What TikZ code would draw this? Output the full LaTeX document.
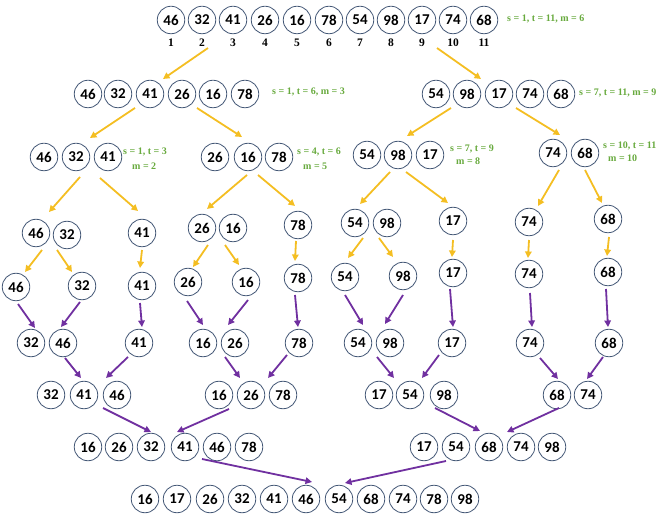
\documentclass[tikz,border=0pt]{standalone}
\usepackage{fontspec}
\setmainfont{Liberation Serif}
\newfontfamily\numfont{Carlito}
\usetikzlibrary{arrows.meta}
\definecolor{cgold}{RGB}{244,190,34}
\definecolor{cpurple}{RGB}{112,48,160}
\definecolor{cring}{RGB}{68,88,118}
\definecolor{cgreen}{RGB}{104,170,62}
\tikzset{
  cnum/.style={circle,draw=cring,line width=0.8pt,minimum size=27.5pt,inner sep=0pt,
    font=\numfont\bfseries\fontsize{15}{15}\selectfont},
  idx/.style={font=\bfseries\fontsize{11.5}{12}\selectfont,inner sep=0pt},
  glab/.style={text=cgreen,anchor=west,inner sep=0pt,font=\bfseries\fontsize{10}{11}\selectfont},
  yarr/.style={draw=cgold,line width=1.8pt,-{Triangle[length=6.5pt,width=6.5pt]}},
  parr/.style={draw=cpurple,line width=1.8pt,-{Triangle[length=6.5pt,width=6.5pt]}}
}
\begin{document}
\begin{tikzpicture}[x=1pt,y=-1pt]
\useasboundingbox (0,0) rectangle (669,518);
% row 1
\foreach \i/\x/\v in {1/171/46,2/202/32,3/233/41,4/265/26,5/297/16,6/329/78,7/360/54,8/391/98,9/422/17,10/453/74,11/484/68}{
  \node[cnum] (a\i) at (\x,20) {\v};
  \node[idx] (n\i) at (\x,43) {\i};
}
\node[glab] (la) at (507,19) {s = 1, t = 11, m = 6};
% row 2
\foreach \i/\x/\v in {1/88/46,2/118/32,3/150/41,4/182/26,5/213/16,6/245/78,7/436/54,8/467/98,9/499/17,10/530/74,11/561/68}{
  \node[cnum] (b\i) at (\x,94) {\v};
}
\node[glab] (lb1) at (272,92) {s = 1, t = 6, m = 3};
\node[glab] (lb2) at (579,93) {s = 7, t = 11, m = 9};
% row 3
\foreach \i/\x/\y/\v in {1/44/157/46,2/76/157/32,3/108/157/41,4/215/157/26,5/248/157/16,6/279/157/78,7/367/155/54,8/398/155/98,9/430/155/17,10/553/153/74,11/585/153/68}{
  \node[cnum] (c\i) at (\x,\y) {\v};
}
\node[glab] (lc1) at (123,152) {s = 1, t = 3};
\node[glab] (lc1m) at (132,166) {m = 2};
\node[glab] (lc2) at (297,152) {s = 4, t = 6};
\node[glab] (lc2m) at (303,166) {m = 5};
\node[glab] (lc3) at (450,149) {s = 7, t = 9};
\node[glab] (lc3m) at (456,161) {m = 8};
\node[glab] (lc4) at (603,146) {s = 10, t = 11};
\node[glab] (lc4m) at (608,158) {m = 10};
% row 4
\foreach \i/\x/\y/\v in {1/36/233/46,2/67/235/32,3/142/233/41,4/202/228/26,5/233/228/16,6/298/225/78,7/355/223/54,8/387/223/98,9/453/221/17,10/529/222/74,11/608/219/68}{
  \node[cnum] (d\i) at (\x,\y) {\v};
}
% row 5
\foreach \i/\x/\y/\v in {1/16/287/46,2/82/286/32,3/142/286/41,4/188/282/26,5/246/282/16,6/298/278/78,7/345/277/54,8/403/276/98,9/453/273/17,10/529/274/74,11/608/272/68}{
  \node[cnum] (e\i) at (\x,\y) {\v};
}
% row 6
\foreach \i/\x/\v in {1/31/32,2/63/46,3/139/41,4/203/16,5/235/26,6/299/78,7/358/54,8/390/98,9/452/17,10/530/74,11/609/68}{
  \node[cnum] (f\i) at (\x,343) {\v};
}
% row 7
\foreach \i/\x/\v in {1/51/32,2/84/41,3/117/46,4/219/16,5/251/26,6/283/78,7/379/17,8/410/54,9/444/98,10/557/68,11/588/74}{
  \node[cnum] (g\i) at (\x,395) {\v};
}
% row 8
\foreach \i/\x/\v in {1/88/16,2/119/26,3/151/32,4/185/41,5/217/46,6/249/78,7/424/17,8/456/54,9/489/68,10/521/74,11/552/98}{
  \node[cnum] (h\i) at (\x,447) {\v};
}
% row 9
\foreach \i/\x/\v in {1/145/16,2/177/17,3/210/26,4/242/32,5/274/41,6/306/46,7/339/54,8/371/68,9/403/74,10/434/78,11/465/98}{
  \node[cnum] (k\i) at (\x,499) {\v};
}
% yellow split arrows
\foreach \n/\sx/\sy/\ex/\ey in {
 1/208/48/163/79, 2/437/48/481/79, 3/135/108/90/138, 4/197/108/242/137,
 5/451/108/407/136, 6/516/108/560/135, 7/80/177/49/212, 8/100/178/138/211,
 9/247/175/207/209, 10/258/175/295/206, 11/390/172/360/204, 12/406/172/448/203,
 13/559/170/538/206, 14/585/170/602/203, 15/42/250/25/272, 16/57/250/72/272,
 17/142/250/140/268, 18/208/245/193/267, 19/225/245/239/265, 20/296/241/295/261,
 21/363/238/348/258, 22/379/238/393/257, 23/453/240/452/257, 24/529/240/528/258,
 25/609/237/607/256}{
  \coordinate (ys\n) at (\sx,\sy);
  \coordinate (ye\n) at (\ex,\ey);
  \draw[yarr] (ys\n) -- (ye\n);
}
% purple merge arrows
\foreach \n/\sx/\sy/\ex/\ey in {
 1/18/304/35/328, 2/80/302/61/327, 3/140/303/142/327, 4/187/301/203/325,
 5/248/300/228/325, 6/295/295/298/327, 7/345/295/363/325, 8/403/295/385/324,
 9/450/289/453/327, 10/530/293/532/327, 11/606/289/608/327,
 12/65/358/81/378, 13/128/357/106/378, 14/225/357/240/378, 15/287/355/268/378,
 16/377/357/394/378, 17/439/355/422/378, 18/540/358/558/379, 19/603/357/587/379,
 20/103/408/151/432, 21/229/409/177/432, 22/435/408/480/431, 23/559/408/507/432,
 24/202/459/312/482, 25/446/461/345/483}{
  \coordinate (ps\n) at (\sx,\sy);
  \coordinate (pe\n) at (\ex,\ey);
  \draw[parr] (ps\n) -- (pe\n);
}
\end{tikzpicture}
\end{document}
